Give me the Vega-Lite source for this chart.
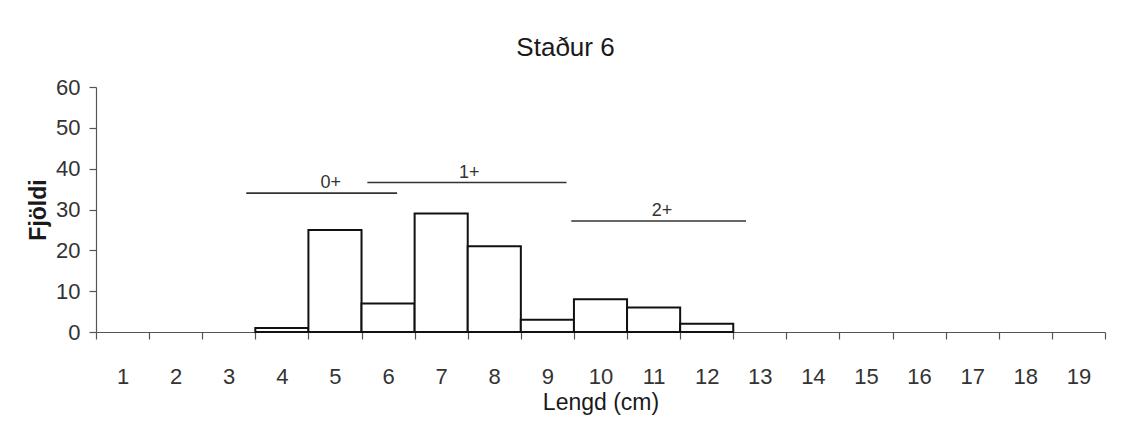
{
  "$schema": "https://vega.github.io/schema/vega-lite/v6.json",
  "width": 1009,
  "height": 245,
  "autosize": {"type": "none"},
  "padding": {"left": 96, "top": 87, "right": 31, "bottom": 98},
  "background": "white",
  "title": {
    "text": "Staður 6",
    "font": "Liberation Sans",
    "fontSize": 26,
    "fontWeight": "normal",
    "color": "#1a1a1a",
    "anchor": "middle",
    "dx": -35,
    "offset": 15
  },
  "config": {
    "view": {"stroke": null},
    "axis": {
      "grid": false,
      "labelFont": "Liberation Sans",
      "titleFont": "Liberation Sans",
      "labelColor": "#333333",
      "titleColor": "#1a1a1a",
      "domainColor": "#555555",
      "tickColor": "#555555",
      "domainWidth": 1.2,
      "tickWidth": 1.2
    }
  },
  "layer": [
    {
      "data": {
        "values": [
          {"len": 4, "n": 1},
          {"len": 5, "n": 25},
          {"len": 6, "n": 7},
          {"len": 7, "n": 29},
          {"len": 8, "n": 21},
          {"len": 9, "n": 3},
          {"len": 10, "n": 8},
          {"len": 11, "n": 6},
          {"len": 12, "n": 2}
        ]
      },
      "transform": [
        {"calculate": "datum.len - 0.5", "as": "lo"},
        {"calculate": "datum.len + 0.5", "as": "hi"}
      ],
      "mark": {"type": "bar", "fill": "white", "stroke": "#111111", "strokeWidth": 2},
      "encoding": {
        "x": {
          "field": "lo",
          "type": "quantitative",
          "scale": {"domain": [0.5, 19.5], "nice": false, "zero": false},
          "axis": {
            "title": "Lengd (cm)",
            "titleFontSize": 23,
            "titleFontWeight": "normal",
            "titlePadding": 4,
            "values": [0.5, 1.5, 2.5, 3.5, 4.5, 5.5, 6.5, 7.5, 8.5, 9.5, 10.5, 11.5, 12.5, 13.5, 14.5, 15.5, 16.5, 17.5, 18.5, 19.5],
            "labelExpr": "datum.value < 19 ? format(datum.value + 0.5, 'd') : ''",
            "labelOffset": 26.5,
            "labelFlush": false,
            "labelOverlap": false,
            "labelBound": false,
            "labelFontSize": 22,
            "labelPadding": 27,
            "tickSize": 7
          }
        },
        "x2": {"field": "hi"},
        "y": {
          "field": "n",
          "type": "quantitative",
          "scale": {"domain": [0, 60], "nice": false},
          "axis": {
            "title": "Fjöldi",
            "titleFontSize": 23,
            "titleFontWeight": "bold",
            "titlePadding": 5,
            "values": [0, 10, 20, 30, 40, 50, 60],
            "labelFontSize": 22,
            "labelPadding": 9,
            "tickSize": 7
          }
        },
        "y2": {"datum": 0}
      }
    },
    {
      "data": {
        "values": [
          {"group": "0+", "start": 3.33, "end": 6.17, "y": 34, "lx": 4.92},
          {"group": "1+", "start": 5.61, "end": 9.36, "y": 36.6, "lx": 7.53},
          {"group": "2+", "start": 9.45, "end": 12.74, "y": 27.2, "lx": 11.16}
        ]
      },
      "layer": [
        {
          "mark": {"type": "rule", "stroke": "#333333", "strokeWidth": 1.6},
          "encoding": {
            "x": {"field": "start", "type": "quantitative"},
            "x2": {"field": "end"},
            "y": {"field": "y", "type": "quantitative"}
          }
        },
        {
          "mark": {"type": "text", "font": "Liberation Sans", "fontSize": 18, "color": "#333333", "baseline": "middle", "dy": -10},
          "encoding": {
            "x": {"field": "lx", "type": "quantitative"},
            "y": {"field": "y", "type": "quantitative"},
            "text": {"field": "group"}
          }
        }
      ]
    }
  ]
}
